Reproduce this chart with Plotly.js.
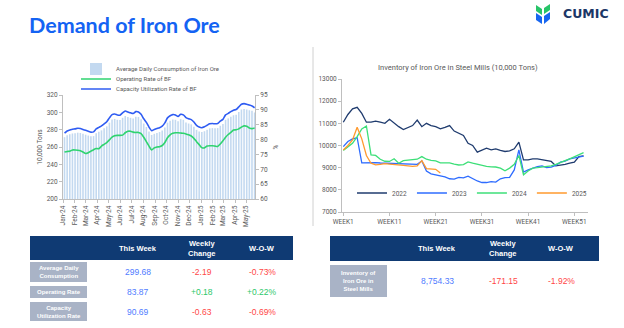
<!DOCTYPE html>
<html>
<head>
<meta charset="utf-8">
<script src="https://cdn.plot.ly/plotly-3.0.1.min.js"></script>
<style>html,body{margin:0;padding:0;background:#fff;}#chart{width:624px;height:328px;}</style>
</head>
<body>
<div id="chart"></div>
<script>
// ---------- Left chart data (weekly) ----------
const dates = ["2024-01-05","2024-01-12","2024-01-19","2024-01-26","2024-02-02","2024-02-09","2024-02-16","2024-02-23",
"2024-03-01","2024-03-08","2024-03-15","2024-03-22","2024-03-29","2024-04-05","2024-04-12","2024-04-19","2024-04-26",
"2024-05-03","2024-05-10","2024-05-17","2024-05-24","2024-05-31","2024-06-07","2024-06-14","2024-06-21","2024-06-28",
"2024-07-05","2024-07-12","2024-07-19","2024-07-26","2024-08-02","2024-08-09","2024-08-16","2024-08-23","2024-08-30",
"2024-09-06","2024-09-13","2024-09-20","2024-09-27","2024-10-04","2024-10-11","2024-10-18","2024-10-25","2024-11-01",
"2024-11-08","2024-11-15","2024-11-22","2024-11-29","2024-12-06","2024-12-13","2024-12-20","2024-12-27","2025-01-03",
"2025-01-10","2025-01-17","2025-01-24","2025-01-31","2025-02-07","2025-02-14","2025-02-21","2025-02-28","2025-03-07",
"2025-03-14","2025-03-21","2025-03-28","2025-04-04","2025-04-11","2025-04-18","2025-04-25","2025-05-02","2025-05-09",
"2025-05-16","2025-05-23"];
const consumption = [271.3,273.6,274.6,275.6,275.9,276.5,276.2,275.2,274.2,273.2,
272.3,272.6,275.9,277.5,279.2,281.5,283.8,288.1,291.7,292.4,
291.4,291.1,293.7,295.7,294.7,293.7,293.0,295.0,294.7,292.1,
287.1,283.1,277.9,273.9,275.2,276.2,277.2,278.9,282.5,288.1,
290.4,291.7,291.4,289.7,292.1,291.4,288.4,287.1,286.1,283.5,
279.8,277.9,277.2,278.2,279.8,281.5,281.8,281.5,281.8,284.5,
286.4,291.4,293.0,295.0,296.7,297.3,300.3,303.3,303.9,303.3,
302.3,301.87,299.68];
const operatingRate = [75.8,76.0,76.1,76.5,76.5,76.4,76.2,75.8,75.3,75.6,
76.1,76.6,77.0,76.9,77.8,78.4,79.0,79.9,80.8,81.3,
81.4,81.4,81.5,82.3,82.8,82.8,82.5,82.4,82.4,82.0,
80.8,79.3,77.8,76.5,77.2,77.5,77.6,78.0,79.0,80.6,
81.6,82.1,82.3,82.3,82.2,82.1,81.9,81.6,81.2,80.4,
79.3,78.3,77.3,77.2,77.8,77.9,77.9,77.8,77.7,78.5,
79.6,80.8,81.7,82.4,83.2,83.3,83.6,84.2,84.6,84.5,
83.9,83.69,83.87];
const capacityUtil = [82.2,82.9,83.2,83.5,83.6,83.8,83.7,83.4,83.1,82.8,
82.5,82.6,83.6,84.1,84.6,85.3,86.0,87.3,88.4,88.6,
88.3,88.2,89.0,89.6,89.3,89.0,88.8,89.4,89.3,88.5,
87.0,85.8,84.2,83.0,83.4,83.7,84.0,84.5,85.6,87.3,
88.0,88.4,88.3,87.8,88.5,88.3,87.4,87.0,86.7,85.9,
84.8,84.2,84.0,84.3,84.8,85.3,85.4,85.3,85.4,86.2,
86.8,88.3,88.8,89.4,89.9,90.1,91.0,91.9,92.1,91.9,
91.6,91.32,90.69];

// ---------- Right chart data (by week) ----------
const weeks = [1,2,3,4,5,6,7,8,9,10,11,12,13,14,15,16,17,18,19,20,21,22,23,24,25,26,27,28,29,30,
31,32,33,34,35,36,37,38,39,40,41,42,43,44,45,46,47,48,49,50,51,52,53];
const weekTicks = [1,11,21,31,41,51];
const weekLabels = ["WEEK1","WEEK11","WEEK21","WEEK31","WEEK41","WEEK51"];
const inv2022 = [11050,11400,11650,11720,11450,11050,11050,11100,11050,11000,
11180,11000,10850,10720,10800,10900,11150,10850,11000,10900,
10850,10750,10820,10900,10650,10550,10450,10100,10000,9700,
9800,9880,9800,9850,9780,9730,9760,9850,10150,9350,
9350,9400,9400,9350,9320,9280,9080,9100,9150,9200,
9250,9500,9530];
const inv2023 = [9950,10180,10300,10350,9220,9230,9240,9230,9210,9200,
9220,9210,9180,9170,9160,9150,9150,9300,8850,8720,
8680,8650,8580,8500,8480,8560,8540,8620,8500,8400,
8330,8330,8370,8350,8500,8550,8560,8900,9800,8800,
8900,8980,9050,9080,9000,9020,9100,9250,9300,9400,
9450,9480,9520];
const inv2024 = [9780,9950,10100,10400,10750,10880,9580,9550,9380,9290,
9280,9400,9200,9320,9350,9370,9380,9500,9380,9330,
9310,9220,9230,9220,9160,9120,9140,9260,9200,9150,
9100,9060,9040,9030,8980,8860,8980,9150,9550,8680,
8850,8980,9000,9030,9050,9080,9150,9250,9320,9400,
9500,9600,9680];
const inv2025 = [9800,10000,10250,10820,10300,9550,9200,9130,9150,9180,
9160,9150,9120,9100,9080,9060,9080,9320,8960,8940,
8925.48,8754.33];
const seriesYears = ["2022","2023","2024","2025"];

// ---------- Tables ----------
const demandLabels = ["Average Daily<br>Consumption","Operating Rate","Capacity<br>Utilization Rate"];
const demandThisWeek = [299.68, 83.87, 90.69];
const demandChange = [-2.19, 0.18, -0.63];
const demandWoW = [-0.73, 0.22, -0.69];
const invLabels = ["Inventory of<br>Iron Ore in<br>Steel Mills"];
const invThisWeek = [8754.33];
const invChange = [-171.15];
const invWoW = [-1.92];
const tableHeader = ["This Week", "Weekly<br>Change", "W-O-W"];

// ---------- helpers ----------
const W = 624, H = 328;
const px = x => x / W;
const py = y => 1 - y / H;
const NAVY = "#0f3a73", GRAYCELL = "#a9b3c6";
const BLUEV = "#4f7cff", RED = "#ff4747", GREEN = "#2dc86a";
const fmt = (v, dec) => v.toLocaleString("en-US", {minimumFractionDigits: dec, maximumFractionDigits: dec});
const signed = v => (v > 0 ? "+" : "") + fmt(v, 2);
const signCol = v => v >= 0 ? GREEN : RED;
const fontMain = "Roboto, 'Liberation Sans', sans-serif";
const fontTbl = "'Liberation Sans', Arial, sans-serif";

const shapes = [];
const annotations = [];
function rect(x0, y0, x1, y1, color) {
  shapes.push({type: "rect", xref: "paper", yref: "paper", x0: px(x0), x1: px(x1), y0: py(y1), y1: py(y0),
    fillcolor: color, line: {width: 0}, layer: "below"});
}
function label(text, x, y, size, color, bold, anchor) {
  annotations.push({text: bold ? "<b>" + text + "</b>" : text, x: px(x), y: py(y), xref: "paper", yref: "paper",
    xanchor: anchor || "center", yanchor: "middle", showarrow: false, align: "center",
    font: {family: fontTbl, size: size, color: color}});
}
// geometry: header box, label column, column centers, row bands
function makeTable(g, labels, tw, ch, wow) {
  rect(g.x0, g.hy0, g.x1, g.hy1, NAVY);
  tableHeader.forEach((t, i) => label(t, g.cols[i], (g.hy0 + g.hy1) / 2, 7.5, "white", true));
  labels.forEach((l, r) => {
    const [ry0, ry1] = g.rows[r];
    const cy = (ry0 + ry1) / 2;
    rect(g.x0, ry0, g.lx1, ry1, GRAYCELL);
    label(l, (g.x0 + g.lx1) / 2, cy, 6, "white", true);
    label(fmt(tw[r], 2), g.cols[0], cy, 8.5, BLUEV, false);
    label(signed(ch[r]), g.cols[1], cy, 8.5, signCol(ch[r]), false);
    label(signed(wow[r]) + "%", g.cols[2], cy, 8.5, signCol(wow[r]), false);
  });
}
makeTable({x0: 30, x1: 293, hy0: 236, hy1: 260, lx1: 87, cols: [138, 202, 262],
  rows: [[262, 282], [286, 298], [302, 321]]}, demandLabels, demandThisWeek, demandChange, demandWoW);
makeTable({x0: 330, x1: 599, hy0: 236, hy1: 261, lx1: 387, cols: [437, 503, 561],
  rows: [[265, 297]]}, invLabels, invThisWeek, invChange, invWoW);

const traces = [
  {type: "bar", x: dates, y: consumption, name: "Average Daily Consumption of Iron Ore", showlegend: true,
   marker: {color: "#c3d9f0", line: {width: 0}}, xaxis: "x", yaxis: "y", legend: "legend"},
  {type: "scatter", mode: "lines", x: dates, y: operatingRate, name: "Operating Rate of BF",
   line: {color: "#2fd36f", width: 1.6, shape: "spline", smoothing: 0.6}, xaxis: "x", yaxis: "y2", legend: "legend2"},
  {type: "scatter", mode: "lines", x: dates, y: capacityUtil, name: "Capacity Utilization Rate of BF",
   line: {color: "#2f5cf2", width: 1.6, shape: "spline", smoothing: 0.6}, xaxis: "x", yaxis: "y2", legend: "legend3"},
  {type: "scatter", mode: "lines", x: weeks, y: inv2022, name: seriesYears[0], line: {color: "#1f3b6e", width: 1.3}, xaxis: "x2", yaxis: "y3", legend: "legend4"},
  {type: "scatter", mode: "lines", x: weeks, y: inv2023, name: seriesYears[1], line: {color: "#2e6cff", width: 1.3}, xaxis: "x2", yaxis: "y3", legend: "legend4"},
  {type: "scatter", mode: "lines", x: weeks, y: inv2024, name: seriesYears[2], line: {color: "#3ddf78", width: 1.3}, xaxis: "x2", yaxis: "y3", legend: "legend4"},
  {type: "scatter", mode: "lines", x: weeks.slice(0, inv2025.length), y: inv2025, name: seriesYears[3], line: {color: "#ff9a2e", width: 1.3}, xaxis: "x2", yaxis: "y3", legend: "legend4"}
];

const axCommon = {showgrid: false, zeroline: false, showline: true, linecolor: "#bfbfbf", linewidth: 1,
  ticks: "outside", ticklen: 3, tickcolor: "#bfbfbf", tickfont: {size: 6.5, color: "#595959", family: fontMain}, fixedrange: true};
const legCommon = {bgcolor: "rgba(0,0,0,0)", font: {size: 6, color: "#595959", family: fontMain}, xanchor: "left", yanchor: "middle", itemwidth: 30};

const logoPaths = [
  {d: [[536,5],[542,9],[542,15],[536,11]], c: "#27c468"},
  {d: [[550,4],[544,8],[544,14],[550,10]], c: "#27c468"},
  {d: [[536,13],[542,17],[542,24],[536,20]], c: "#1766f0"},
  {d: [[550,12],[544,16],[544,24],[550,19]], c: "#1766f0"}
];
const pathStr = pts => "M" + pts.map(p => px(p[0]) + "," + py(p[1])).join(" L") + " Z";
logoPaths.forEach(p => shapes.push({type: "path", xref: "paper", yref: "paper", path: pathStr(p.d), fillcolor: p.c, line: {width: 0}}));
shapes.push({type: "line", xref: "paper", yref: "paper", x0: px(313), x1: px(313), y0: py(47), y1: py(226), line: {color: "#d0d0d0", width: 1}});

annotations.push(
  {text: "<b>Demand of Iron Ore</b>", x: px(27), y: py(25), xref: "paper", yref: "paper", xanchor: "left", yanchor: "middle",
   showarrow: false, font: {family: "Lato, 'Noto Sans', sans-serif", size: 21.5, color: "#1463f3"}},
  {text: "Inventory of Iron Ore in Steel Mills (10,000 Tons)", x: px(458), y: py(68), xref: "paper", yref: "paper",
   xanchor: "center", yanchor: "middle", showarrow: false, font: {family: fontMain, size: 7.5, color: "#595959"}},
  {text: "<b>CUMIC</b>", x: px(561), y: py(13), xref: "paper", yref: "paper", xanchor: "left", yanchor: "middle",
   showarrow: false, font: {family: "'DejaVu Sans', sans-serif", size: 12.5, color: "#1c3766"}}
);

const layout = {
  width: W, height: H, margin: {l: 0, r: 0, t: 0, b: 0},
  paper_bgcolor: "#ffffff", plot_bgcolor: "rgba(0,0,0,0)",
  font: {family: fontMain, color: "#595959"},
  showlegend: true,
  bargap: 0.4,
  xaxis: Object.assign({}, axCommon, {domain: [px(63), px(255)], anchor: "y", type: "date",
    range: ["2024-01-01", "2025-05-24"], tick0: "2024-01-01", dtick: "M1", tickformat: "%b-%y", tickangle: -90}),
  yaxis: Object.assign({}, axCommon, {domain: [py(199), py(95)], anchor: "x", range: [200, 320], dtick: 20,
    title: {text: "10,000 Tons", font: {size: 6.5, color: "#595959"}, standoff: 3}}),
  yaxis2: Object.assign({}, axCommon, {overlaying: "y", side: "right", anchor: "x", range: [60, 95], dtick: 5,
    title: {text: "%", font: {size: 6.5, color: "#595959"}, standoff: 6}}),
  xaxis2: Object.assign({}, axCommon, {domain: [px(342), px(588)], anchor: "y3", range: [0.72, 53.96],
    tickvals: weekTicks, ticktext: weekLabels}),
  yaxis3: Object.assign({}, axCommon, {domain: [py(212), py(79)], anchor: "x2", range: [7000, 13000], dtick: 1000, tickformat: "d"}),
  legend: Object.assign({}, legCommon, {x: px(76), y: py(69)}),
  legend2: Object.assign({}, legCommon, {x: px(76), y: py(79)}),
  legend3: Object.assign({}, legCommon, {x: px(76), y: py(89)}),
  legend4: Object.assign({}, legCommon, {orientation: "h", x: px(592), xanchor: "right", y: py(193), font: {size: 6.5, color: "#595959", family: fontMain}}),
  annotations: annotations,
  shapes: shapes
};

Plotly.newPlot("chart", traces, layout, {displayModeBar: false, staticPlot: true});
</script>
</body>
</html>
